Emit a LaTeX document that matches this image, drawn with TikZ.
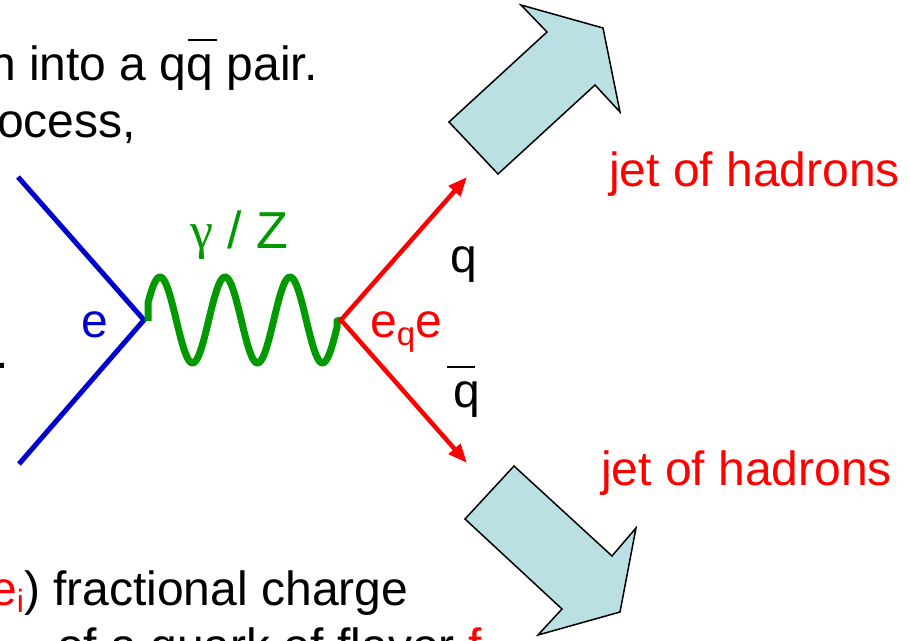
\documentclass[tikz,border=0pt]{standalone}
\usepackage{fontspec}
\setmainfont{Liberation Sans}
\newfontfamily\gfont{Liberation Serif}
\usetikzlibrary{arrows.meta}
\definecolor{eblue}{RGB}{0,0,204}
\definecolor{pgreen}{RGB}{0,153,0}
\definecolor{jetfill}{RGB}{187,224,227}
\newcommand\qbarmark[2]{\rlap{\kern#1\rule[39pt]{#2}{2pt}}q}
\begin{document}
\begin{tikzpicture}[x=1pt,y=-1pt,
  txt/.style={anchor=base west, inner sep=0pt, font=\fontsize{48}{57}\selectfont},
  lepton/.style={draw=eblue, line width=5pt, line join=miter},
  quark/.style={draw=red, line width=4.5pt, line join=miter,
    {Triangle[length=19pt,width=15pt]}-{Triangle[length=19pt,width=15pt]}},
  boson/.style={draw=pgreen, line width=7pt, line join=round},
  jetarrow/.style={fill=jetfill, draw=black, line width=1.5pt, line join=miter}]
\useasboundingbox (0,0) rectangle (910,640);
\clip (0,0) rectangle (910,640);
\fill[white] (0,0) rectangle (910,640);

% text lines (partially cut by the frame, as in the reference)
\node[txt] (l1) at (-11,80) {n into a q\qbarmark{1.5pt}{29pt} pair.};
\node[txt] (l2) at (-3,137) {ocess,};
\node[txt] (l3) at (-5,368) {.};
\node[txt] (l4) at (-10,605) {\textcolor{red}{e{\fontsize{32}{32}\selectfont\raisebox{-7pt}{i}}}) fractional charge};
\node[txt] (l5) at (57,662) {of a quark of flavor \textcolor{red}{f}};

% vertices and ends
\coordinate (v1) at (144,320);
\coordinate (v2) at (341,320);
\coordinate (ein1) at (18,177);
\coordinate (ein2) at (19,464);
\coordinate (q1) at (467,177);
\coordinate (q2) at (467,463);

% electron lines
\draw[lepton] (ein1) -- (v1) -- (ein2);
% boson
\draw[boson] (148,321) -- (148,307) -- plot[domain=148:337,samples=150] (\x,{320-43*cos(5.53846*(\x-160))}) -- (337,321) -- (v2);
% quark lines
\draw[quark] (q1) -- (v2) -- (q2);

% labels
\node[txt, text=eblue] (le) at (81,337) {e};
\node[txt, text=pgreen, font=\fontsize{52}{60}\selectfont] (lg) at (190,248) {{\gfont γ} / Z};
\node[txt, text=red] (leq) at (370,337) {e{\fontsize{33}{33}\selectfont\raisebox{-8pt}{q}}e};
\node[txt] (lq) at (450,272) {q};
\node[txt] (lqb) at (453,407) {\qbarmark{-6pt}{28pt}};

% jets
\draw[jetarrow] (449,122) -- (498,174) -- (595,85) -- (620,112) -- (603,28) -- (521,5) -- (547,32) -- cycle;
\draw[jetarrow] (514,466) -- (465,519) -- (562,609) -- (538,635) -- (620,612) -- (636,528) -- (612,556) -- cycle;
\node[txt, text=red] (j1) at (609,186) {jet of hadrons};
\node[txt, text=red] (j2) at (601,485) {jet of hadrons};
\end{tikzpicture}
\end{document}
